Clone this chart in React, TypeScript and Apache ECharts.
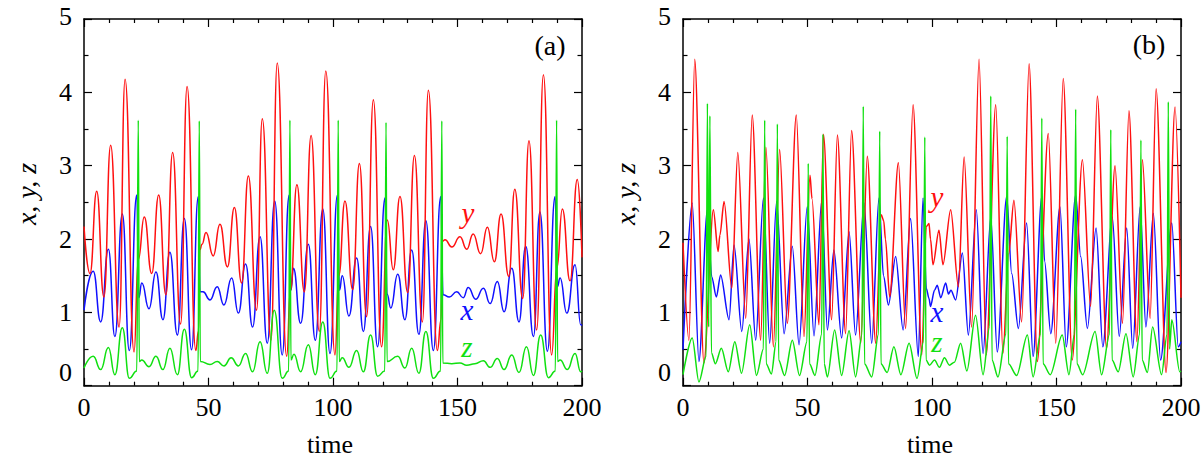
import React, { useEffect, useRef } from "react";
import * as echarts from "echarts";

// ---------- data (time, value) ----------
// Panel (a)
const aX: number[][] = [
  [0, 1.03], [3.7, 1.56], [6.7, 0.87], [9.8, 1.86], [12.4, 0.67], [15.4, 2.34], [18.2, 0.48], [21.2, 2.6],
  [22.0, 1.2], [23.2, 1.4], [26.1, 1.05], [28.9, 1.55], [31.7, 0.9], [34.5, 1.82], [37.5, 0.69], [40.3, 2.28],
  [43.2, 0.49], [45.9, 2.58], [46.6, 1.28], [47.8, 1.28], [50.6, 1.17], [53.5, 1.35], [56.2, 1.1], [59.3, 1.47],
  [62.0, 0.99], [64.9, 1.66], [67.7, 0.8], [70.7, 2.03], [73.6, 0.58], [76.6, 2.52], [79.6, 0.42], [82.4, 2.6],
  [83.1, 1.3], [84.1, 1.6], [87.0, 0.85], [90.1, 1.93], [92.9, 0.62], [95.9, 2.41], [98.8, 0.44], [101.8, 2.6],
  [102.6, 1.3], [103.7, 1.5], [106.4, 0.95], [109.5, 1.74], [112.2, 0.74], [115.1, 2.17], [117.9, 0.53],
  [120.9, 2.56], [121.7, 1.25], [123.2, 1.06], [126.0, 1.52], [128.9, 0.9], [131.6, 1.85], [134.5, 0.7],
  [137.3, 2.25], [140.3, 0.48], [143.3, 2.58], [144.2, 1.24], [146.7, 1.21], [149.7, 1.28], [152.3, 1.2],
  [154.3, 1.34], [157.3, 1.18], [160.4, 1.33], [163.1, 1.12], [166.0, 1.42], [168.7, 1.01], [171.8, 1.6],
  [174.7, 0.87], [177.4, 1.9], [180.5, 0.67], [183.1, 2.37], [186.1, 0.47], [189.2, 2.58], [190.1, 1.35],
  [191.2, 1.47], [193.9, 0.99], [197.2, 1.65], [199.5, 0.83], [200, 0.82],
];
const aY: number[][] = [
  [0, 2.17], [2.4, 1.53], [5.1, 2.65], [8.0, 1.21], [10.7, 3.28], [14.1, 0.8], [16.5, 4.18], [20.1, 0.46],
  [21.8, 1.72], [24.2, 2.3], [27.2, 1.53], [30.0, 2.6], [32.9, 1.24], [35.6, 3.18], [38.8, 0.84], [41.4, 4.08],
  [44.9, 0.48], [46.0, 0.75], [46.5, 1.85], [47.4, 1.93], [49.0, 2.09], [51.9, 1.77], [54.6, 2.2], [57.6, 1.62],
  [60.4, 2.43], [63.3, 1.4], [66.0, 2.86], [69.3, 1.03], [71.6, 3.64], [75.1, 0.62], [77.6, 4.4], [81.4, 0.4],
  [82.9, 1.3], [85.5, 2.74], [88.5, 1.28], [91.2, 3.41], [94.5, 0.74], [97.1, 4.29], [100.8, 0.42],
  [102.3, 1.5], [104.8, 2.52], [107.9, 1.31], [110.6, 3.03], [113.5, 0.94], [116.2, 3.9], [119.5, 0.53],
  [121.8, 2.26], [124.2, 1.58], [126.9, 2.58], [130.0, 1.27], [132.7, 3.14], [135.9, 0.87], [138.3, 4.03],
  [141.9, 0.48], [143.4, 0.9], [143.9, 1.97], [145.0, 1.99], [147.7, 1.89], [151.0, 2.03], [153.7, 1.86],
  [156.3, 2.07], [159.3, 1.8], [162.0, 2.16], [164.8, 1.69], [167.5, 2.34], [170.6, 1.49], [173.0, 2.68],
  [176.2, 1.19], [178.7, 3.34], [181.8, 0.76], [184.5, 4.24], [187.8, 0.42], [189.9, 1.6], [192.1, 2.41],
  [195.2, 1.43], [198.1, 2.81], [200, 1.75],
];
const aZ: number[][] = [
  [0, 0.24], [3.7, 0.4], [6.7, 0.22], [9.8, 0.52], [12.4, 0.15], [15.4, 0.79], [18.2, 0.1], [21.2, 0.2],
  [21.8, 3.62], [22.2, 0.33], [23.2, 0.35], [26.1, 0.26], [28.9, 0.4], [31.7, 0.22], [34.5, 0.51], [37.5, 0.15],
  [40.3, 0.77], [43.2, 0.11], [45.8, 0.2], [46.3, 3.61], [46.7, 0.33], [50.6, 0.29], [53.5, 0.33], [56.2, 0.27],
  [59.1, 0.38], [62.0, 0.27], [64.9, 0.44], [67.7, 0.19], [70.7, 0.6], [73.6, 0.17], [76.4, 1.03], [79.6, 0.1],
  [82.2, 0.2], [82.7, 3.62], [83.1, 0.35], [84.3, 0.43], [87.0, 0.19], [90.1, 0.56], [92.9, 0.15], [95.9, 0.87],
  [98.8, 0.1], [101.6, 0.2], [102.1, 3.62], [102.5, 0.33], [103.7, 0.38], [106.4, 0.25], [109.5, 0.48],
  [112.2, 0.19], [115.1, 0.69], [117.9, 0.13], [120.8, 0.2], [121.3, 3.59], [121.7, 0.33], [126.0, 0.4],
  [128.9, 0.24], [131.6, 0.51], [134.5, 0.17], [137.3, 0.74], [140.3, 0.1], [143.2, 0.2], [143.7, 3.61],
  [144.1, 0.31], [147.7, 0.3], [151.0, 0.31], [153.7, 0.28], [157.0, 0.3], [160.4, 0.34], [163.1, 0.25],
  [166.0, 0.37], [168.7, 0.22], [171.8, 0.42], [174.7, 0.18], [177.7, 0.53], [180.5, 0.14], [183.4, 0.69],
  [186.5, 0.11], [189.3, 0.2], [189.8, 3.62], [190.2, 0.33], [191.2, 0.35], [194.1, 0.22], [197.2, 0.44],
  [199.5, 0.19], [200, 0.2],
];
// Panel (b)
const bX: number[][] = [
  [0, 0.49], [3.7, 2.49], [6.4, 0.33], [9.8, 2.4], [11.5, 1.49], [13.4, 1.21], [15.1, 1.51], [18.5, 0.9],
  [20.5, 1.92], [23.6, 0.74], [26.5, 2.0], [29.2, 0.62], [32.3, 2.56], [34.8, 0.58], [37.6, 2.51], [40.6, 0.71],
  [43.9, 1.9], [46.6, 0.56], [49.9, 2.44], [52.6, 0.68], [55.7, 2.52], [58.0, 0.76], [60.6, 1.85], [63.7, 0.65],
  [66.7, 2.1], [69.3, 0.69], [72.7, 2.49], [75.8, 0.58], [78.7, 2.56], [80.5, 1.5], [82.5, 1.1], [85.4, 1.76],
  [88.4, 0.76], [91.4, 2.28], [94.5, 0.4], [96.4, 2.56], [97.7, 1.33], [98.8, 1.19], [99.4, 1.08], [101.0, 1.3],
  [102.1, 1.37], [103.5, 1.2], [105.5, 1.4], [106.6, 1.25], [107.6, 1.3], [109.5, 1.17], [112.2, 1.81],
  [114.6, 0.69], [117.8, 2.4], [120.5, 0.44], [123.6, 2.3], [126.2, 0.46], [130.0, 2.58], [132.0, 1.53],
  [134.7, 0.78], [138.0, 2.22], [140.6, 0.4], [144.1, 2.58], [145.2, 1.7], [147.7, 0.71], [151.4, 2.44],
  [153.9, 0.53], [157.7, 2.6], [159.7, 1.76], [162.4, 0.78], [165.9, 2.15], [168.6, 0.53], [172.4, 2.3],
  [175.2, 0.67], [178.2, 2.15], [180.6, 0.51], [183.6, 2.44], [185.9, 0.8], [188.9, 2.35], [191.8, 0.35],
  [196.3, 2.22], [198.9, 0.53], [200, 0.6],
];
const bY: number[][] = [
  [0, 1.95], [2.4, 0.62], [4.7, 4.45], [8.4, 0.31], [12.2, 2.4], [14.1, 1.83], [14.8, 2.05], [16.5, 2.51],
  [19.6, 1.33], [22.0, 3.18], [25.2, 0.92], [27.8, 3.69], [31.2, 0.62], [33.3, 3.25], [36.3, 0.53], [38.8, 3.22],
  [41.9, 0.85], [45.5, 3.69], [48.6, 0.67], [51.0, 2.87], [51.8, 2.55], [54.6, 0.83], [56.4, 3.43], [59.7, 0.9],
  [62.0, 3.42], [65.3, 0.71], [67.7, 3.48], [71.4, 0.58], [74.0, 3.13], [77.4, 0.58], [79.6, 2.33], [80.6, 2.25],
  [81.3, 2.0], [83.0, 1.21], [86.5, 3.04], [89.4, 0.78], [92.4, 3.83], [95.9, 0.42], [97.7, 2.17], [98.8, 2.21],
  [99.4, 2.0], [100.4, 1.65], [102.8, 2.12], [104.4, 1.65], [107.5, 2.4], [110.6, 1.35], [112.9, 3.12],
  [115.9, 0.8], [118.9, 4.45], [121.8, 0.42], [125.6, 3.83], [128.5, 0.44], [130.8, 1.8], [132.9, 2.53],
  [136.0, 0.87], [139.0, 4.39], [142.3, 0.33], [146.7, 3.44], [149.7, 0.58], [152.7, 4.19], [156.3, 0.35],
  [160.4, 3.08], [163.7, 1.08], [166.4, 3.95], [170.1, 0.51], [173.5, 3.0], [176.5, 0.85], [179.1, 3.75],
  [182.3, 0.6], [184.5, 3.08], [187.6, 0.92], [190.0, 4.05], [194.0, 0.18], [197.6, 3.8], [200, 1.2],
];
const bZ: number[][] = [
  [0, 0.15], [3.7, 0.65], [6.4, 0.05], [9.3, 0.4], [9.8, 3.85], [10.3, 0.8], [10.8, 3.68], [11.4, 0.45],
  [13.0, 0.3], [15.4, 0.51], [18.2, 0.19], [20.8, 0.6], [23.5, 0.17], [26.8, 0.83], [29.5, 0.14], [32.3, 0.5],
  [32.8, 3.62], [33.4, 0.3], [35.5, 0.16], [37.4, 0.6], [37.9, 3.57], [38.4, 0.35], [40.8, 0.14], [43.9, 0.62],
  [46.8, 0.14], [49.8, 0.6], [50.3, 3.03], [50.8, 0.3], [53.0, 0.14], [55.7, 0.7], [56.2, 3.43], [56.7, 0.3],
  [58.0, 0.12], [60.9, 0.76], [63.7, 0.14], [66.7, 0.75], [69.3, 0.12], [71.9, 0.7], [72.4, 3.81], [72.9, 0.3],
  [75.8, 0.12], [78.5, 0.7], [79.0, 3.47], [79.5, 0.3], [82.0, 0.18], [84.7, 0.53], [87.5, 0.15], [90.8, 0.58],
  [94.0, 0.1], [96.6, 0.6], [97.1, 3.39], [97.6, 0.35], [99.0, 0.28], [101.0, 0.35], [103.0, 0.25],
  [105.0, 0.38], [107.0, 0.28], [109.0, 0.32], [111.5, 0.58], [114.0, 0.2], [117.5, 0.96], [120.5, 0.15],
  [123.1, 0.8], [123.6, 3.95], [124.1, 0.35], [126.5, 0.12], [129.7, 0.7], [130.2, 3.4], [130.7, 0.3],
  [134.0, 0.14], [138.3, 0.69], [140.6, 0.12], [143.6, 0.7], [144.1, 3.65], [144.6, 0.3], [147.5, 0.15],
  [152.3, 0.69], [155.0, 0.15], [157.2, 0.7], [157.7, 3.77], [158.2, 0.3], [160.5, 0.15], [165.5, 0.74],
  [168.1, 0.15], [171.3, 0.7], [171.8, 3.49], [172.3, 0.35], [174.8, 0.19], [177.9, 0.71], [180.8, 0.12],
  [183.4, 0.7], [183.9, 3.35], [184.4, 0.35], [186.5, 0.18], [188.6, 0.8], [192.2, 0.15], [194.4, 0.7],
  [194.9, 3.87], [195.4, 0.5], [196.3, 0.9], [199.5, 0.19], [200, 0.2],
];

const timeRange = [0, 200];
const valueRange = [0, 5];
const panelTags = ["(a)", "(b)"];
const axisTitleY = "x, y, z";
const axisTitleX = "time";

const RED = "#ff1010";
const BLUE = "#1010ff";
const GREEN = "#10e010";
const FONT = "Liberation Serif, Times New Roman, serif";

export default function App() {
  const ref = useRef<HTMLDivElement>(null);
  useEffect(() => {
    if (!ref.current) return;
    const chart = echarts.init(ref.current, undefined, { renderer: "svg" });
    const grids = [
      { left: 84, top: 19, width: 498, height: 366.7 },
      { left: 683, top: 19, width: 498, height: 366.7 },
    ];
    const axisLine = { show: true, onZero: false, lineStyle: { color: "#000", width: 1.5 } };
    const xAxes: any[] = [];
    const yAxes: any[] = [];
    grids.forEach((_, g) => {
      ["bottom", "top"].forEach((pos) => {
        xAxes.push({
          type: "value", gridIndex: g, position: pos, min: timeRange[0], max: timeRange[1], interval: 50,
          axisLine, splitLine: { show: false },
          axisTick: { show: true, inside: true, length: 8, lineStyle: { color: "#000", width: 1.2 } },
          minorTick: { show: true, splitNumber: 5, length: 4, lineStyle: { color: "#000", width: 1.2 } },
          axisLabel: { show: pos === "bottom", margin: 9, color: "#000", fontSize: 26, fontFamily: FONT },
        });
      });
      ["left", "right"].forEach((pos) => {
        yAxes.push({
          type: "value", gridIndex: g, position: pos, min: valueRange[0], max: valueRange[1], interval: 1,
          axisLine, splitLine: { show: false },
          axisTick: { show: true, inside: true, length: 8, lineStyle: { color: "#000", width: 1.2 } },
          minorTick: { show: true, splitNumber: 2, length: 4.5, lineStyle: { color: "#000", width: 1.2 } },
          axisLabel: {
            show: pos === "left", margin: 12, color: "#000", fontSize: 26, fontFamily: FONT,
            formatter: (v: number) => (v === 0 ? `{lo|0}` : v === 5 ? `{hi|5}` : `{n|${v}}`),
            rich: {
              lo: { fontSize: 26, fontFamily: FONT, color: "#000", padding: [0, 0, 26, 0] },
              hi: { fontSize: 26, fontFamily: FONT, color: "#000", padding: [0, 0, 6, 0] },
              n: { fontSize: 26, fontFamily: FONT, color: "#000" },
            },
          },
        });
      });
    });
    const mk = (data: number[][], color: string, g: number, smooth: number) => ({
      type: "line", data, xAxisIndex: g * 2, yAxisIndex: g * 2, showSymbol: false, symbol: "none",
      smooth, smoothMonotone: "x", clip: true,
      lineStyle: { color, width: 1.5 }, itemStyle: { color },
    });
    const series = [
      mk(aX, BLUE, 0, 0.5), mk(aY, RED, 0, 0.5), mk(aZ, GREEN, 0, 0.5),
      mk(bX, BLUE, 1, 0.3), mk(bY, RED, 1, 0.3), mk(bZ, GREEN, 1, 0.3),
    ];
    const txt = (text: string, x: number, y: number, size: number, fill: string, italic: boolean, rotation = 0) => ({
      type: "text", x, y, rotation, z: 100,
      style: {
        text, fill, fontSize: size, fontFamily: FONT, fontStyle: italic ? "italic" : "normal",
        align: "center", verticalAlign: "middle",
      },
    });
    const graphic = [
      txt(panelTags[0], 550, 45, 28, "#000", false),
      txt(panelTags[1], 1149, 44, 28, "#000", false),
      txt(axisTitleY, 26, 194, 28, "#000", true, Math.PI / 2),
      txt(axisTitleY, 625, 194, 28, "#000", true, Math.PI / 2),
      txt(axisTitleX, 330, 444, 26, "#000", false),
      txt(axisTitleX, 930, 444, 26, "#000", false),
      txt("y", 468, 213, 29, RED, true),
      txt("x", 467, 310, 29, BLUE, true),
      txt("z", 467, 347, 29, GREEN, true),
      txt("y", 937, 197, 29, RED, true),
      txt("x", 937, 312, 29, BLUE, true),
      txt("z", 937, 342, 29, GREEN, true),
    ];
    chart.setOption({
      animation: false,
      backgroundColor: "#fff",
      grid: grids,
      xAxis: xAxes,
      yAxis: yAxes,
      series,
      graphic,
    });
    return () => chart.dispose();
  }, []);
  return (
    <div
      ref={ref}
      style={{ position: "absolute", left: 0, top: 0, width: 1204, height: 466, background: "#fff" }}
    />
  );
}
